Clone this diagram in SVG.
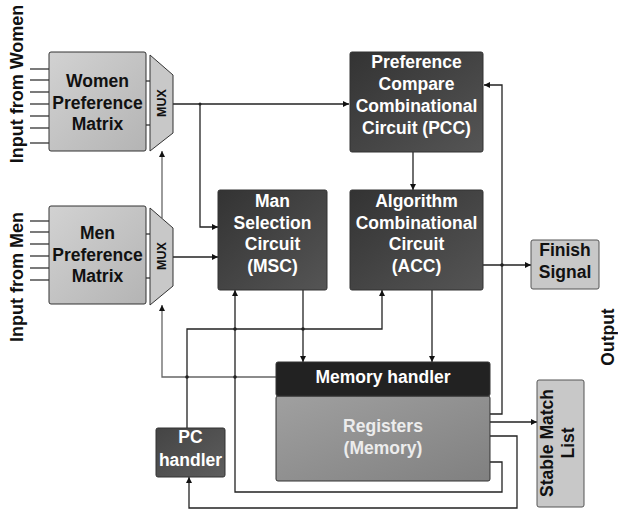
<svg xmlns="http://www.w3.org/2000/svg" width="618" height="510" viewBox="0 0 618 510">
<defs>
<linearGradient id="gLight" x1="0" y1="0" x2="1" y2="1"><stop offset="0" stop-color="#d2d2d2"/><stop offset="1" stop-color="#b4b4b4"/></linearGradient>
<linearGradient id="gDark" x1="0" y1="0" x2="1" y2="1"><stop offset="0" stop-color="#333"/><stop offset="1" stop-color="#555"/></linearGradient>
<linearGradient id="gPC" x1="0" y1="0" x2="1" y2="1"><stop offset="0" stop-color="#444"/><stop offset="1" stop-color="#5e5e5e"/></linearGradient>
<linearGradient id="gReg" x1="0" y1="0" x2="1" y2="1"><stop offset="0" stop-color="#a0a0a0"/><stop offset="1" stop-color="#808080"/></linearGradient>
<marker id="arr" markerUnits="userSpaceOnUse" markerWidth="7" markerHeight="6" refX="6" refY="3" orient="auto"><path d="M0,0 L6,3 L0,6 z" fill="#111"/></marker>
<style>
.t{font-family:"Liberation Sans",Arial,sans-serif;font-weight:bold;font-size:17.5px;text-anchor:middle}
.w{fill:#fff}
.k{fill:#111}
.box{stroke:#333;stroke-width:1}
.c{fill:none;stroke:#222;stroke-width:1.3}
.g{fill:none;stroke:#666;stroke-width:1.3}
.in{stroke:#333;stroke-width:1.3}
</style>
</defs>

<g id="label-women"><text class="t k" transform="translate(23,84) rotate(-90)" style="font-size:18px">Input from Women</text></g>
<g id="label-men"><text class="t k" transform="translate(23,277) rotate(-90)" style="font-size:18px">Input from Men</text></g>
<g id="label-output"><text class="t k" transform="translate(614,337) rotate(-90)">Output</text></g>

<g id="inputs-women">
<line class="in" x1="30" y1="69" x2="49" y2="69"/><line class="in" x1="30" y1="80" x2="49" y2="80"/><line class="in" x1="30" y1="92" x2="49" y2="92"/><line class="in" x1="30" y1="104" x2="49" y2="104"/><line class="in" x1="30" y1="116" x2="49" y2="116"/><line class="in" x1="30" y1="128" x2="49" y2="128"/><line class="in" x1="30" y1="143" x2="49" y2="143"/>
</g>
<g id="inputs-men">
<line class="in" x1="30" y1="221" x2="49" y2="221"/><line class="in" x1="30" y1="232" x2="49" y2="232"/><line class="in" x1="30" y1="244" x2="49" y2="244"/><line class="in" x1="30" y1="256" x2="49" y2="256"/><line class="in" x1="30" y1="268" x2="49" y2="268"/><line class="in" x1="30" y1="280" x2="49" y2="280"/>
</g>

<g id="connectors">
<line class="in" x1="146" y1="81" x2="150" y2="81"/><line class="in" x1="146" y1="125" x2="150" y2="125"/>
<line class="in" x1="146" y1="234" x2="150" y2="234"/><line class="in" x1="146" y1="278" x2="150" y2="278"/>
<path class="c" d="M173,104 H349" marker-end="url(#arr)"/>
<path class="c" d="M200,104 V227 H218" marker-end="url(#arr)"/>
<path class="c" d="M173,257 H218" marker-end="url(#arr)"/>
<path class="c" d="M413,152 V190" marker-end="url(#arr)"/>
<path class="c" d="M483,265 H531" marker-end="url(#arr)"/>
<path class="c" d="M490,414 H502 V85 H484" marker-end="url(#arr)"/>
<path class="c" d="M490,422 H537" marker-end="url(#arr)"/>
<path class="c" d="M490,436 H517 V508 H189 V477" marker-end="url(#arr)"/>
<path class="c" d="M490,462 H502 V492 H235 V290" marker-end="url(#arr)"/>
<path class="c" d="M303,290 V362" marker-end="url(#arr)"/>
<path class="c" d="M432,290 V362" marker-end="url(#arr)"/>
<path class="c" d="M187,428 V329 H382 V290" marker-end="url(#arr)"/>
<path class="g" d="M276,377 H162 V305" marker-end="url(#arr)"/>
<path class="g" d="M162,218 V151" marker-end="url(#arr)"/>
<g fill="#222"><circle cx="187" cy="377" r="1.8"/><circle cx="235" cy="377" r="1.8"/><circle cx="235" cy="329" r="1.8"/><circle cx="303" cy="329" r="1.8"/><circle cx="502" cy="265" r="1.8"/><circle cx="200" cy="104" r="1.5"/></g>
</g>

<g id="women-matrix">
<rect class="box" x="49" y="52" width="97" height="99" rx="2" fill="url(#gLight)"/>
<text class="t k" x="97.5" y="87">Women</text><text class="t k" x="97.5" y="109">Preference</text><text class="t k" x="97.5" y="130">Matrix</text>
</g>
<g id="women-mux">
<path class="box" d="M150,55 L173,75 L173,133 L150,151 Z" fill="#c8c8c8"/>
<text class="t k" transform="translate(165.5,103) rotate(-90)" style="font-size:12.5px">MUX</text>
</g>
<g id="men-matrix">
<rect class="box" x="49" y="206" width="97" height="98" rx="2" fill="url(#gLight)"/>
<text class="t k" x="97.5" y="239">Men</text><text class="t k" x="97.5" y="261">Preference</text><text class="t k" x="97.5" y="282">Matrix</text>
</g>
<g id="men-mux">
<path class="box" d="M150,208 L173,228 L173,286 L150,305 Z" fill="#c8c8c8"/>
<text class="t k" transform="translate(165.5,256) rotate(-90)" style="font-size:12.5px">MUX</text>
</g>

<g id="pcc">
<rect class="box" x="350" y="52" width="133" height="100" rx="2" fill="url(#gDark)"/>
<text class="t w" x="416.5" y="68">Preference</text><text class="t w" x="416.5" y="90">Compare</text><text class="t w" x="416.5" y="112">Combinational</text><text class="t w" x="416.5" y="134">Circuit (PCC)</text>
</g>
<g id="msc">
<rect class="box" x="218" y="190" width="109" height="100" rx="2" fill="url(#gDark)"/>
<text class="t w" x="272.5" y="207">Man</text><text class="t w" x="272.5" y="229">Selection</text><text class="t w" x="272.5" y="250">Circuit</text><text class="t w" x="272.5" y="272">(MSC)</text>
</g>
<g id="acc">
<rect class="box" x="350" y="190" width="133" height="100" rx="2" fill="url(#gDark)"/>
<text class="t w" x="416.5" y="207">Algorithm</text><text class="t w" x="416.5" y="229">Combinational</text><text class="t w" x="416.5" y="250">Circuit</text><text class="t w" x="416.5" y="272">(ACC)</text>
</g>
<g id="finish">
<rect x="531" y="240" width="68" height="49" rx="2" fill="#c8c8c8" stroke="#555"/>
<text class="t k" x="565" y="256">Finish</text><text class="t k" x="565" y="278">Signal</text>
</g>
<g id="memory">
<rect class="box" x="276" y="396" width="214" height="85" rx="2" fill="url(#gReg)"/>
<rect class="box" x="276" y="362" width="214" height="34" rx="2" fill="#222"/>
<text class="t w" x="383" y="383">Memory handler</text>
<text class="t" x="383" y="432" fill="#ececec">Registers</text><text class="t" x="383" y="454" fill="#ececec">(Memory)</text>
</g>
<g id="pc-handler">
<rect class="box" x="156" y="428" width="69" height="49" rx="2" fill="url(#gPC)"/>
<text class="t w" x="190.5" y="443">PC</text><text class="t w" x="190.5" y="466">handler</text>
</g>
<g id="stable">
<rect x="537" y="380" width="47" height="127" rx="2" fill="#c8c8c8" stroke="#555"/>
<g transform="translate(560,443) rotate(-90)"><text class="t k" x="0" y="-7">Stable Match</text><text class="t k" x="0" y="14">List</text></g>
</g>
</svg>
